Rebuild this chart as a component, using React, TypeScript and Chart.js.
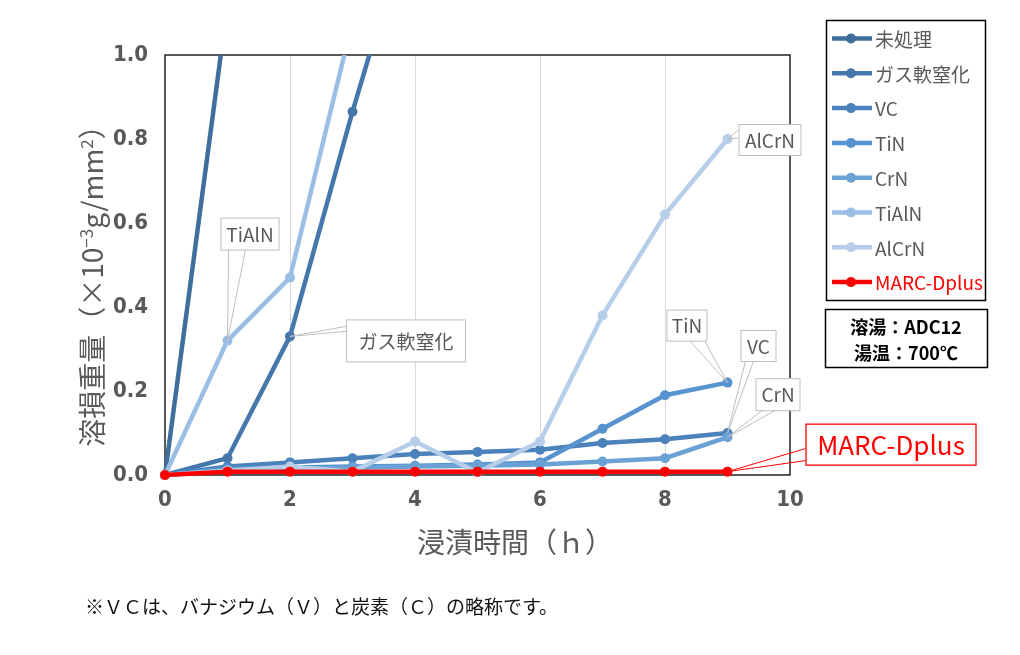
import React, { useEffect, useRef } from 'react';
import { Chart, registerables } from 'chart.js';

Chart.register(...registerables);

// ---- data ----
const hours = [0, 1, 2, 3, 4, 5, 6, 7, 8, 9];
const seriesNames = ['未処理', 'ガス軟窒化', 'VC', 'TiN', 'CrN', 'TiAlN', 'AlCrN', 'MARC-Dplus'];
const untreated = [0, 1.12];
const gasNitriding = [0, 0.04, 0.33, 0.865, 1.365];
const vc = [0, 0.02, 0.03, 0.04, 0.05, 0.055, 0.06, 0.076, 0.085, 0.1];
const tin = [0, 0.015, 0.018, 0.02, 0.022, 0.025, 0.03, 0.11, 0.19, 0.22];
const crn = [0, 0.012, 0.015, 0.017, 0.02, 0.022, 0.025, 0.032, 0.04, 0.09];
const tialn = [0, 0.32, 0.47, 1.08];
const alcrn = [0, 0.01, 0.02, 0.008, 0.08, 0.006, 0.08, 0.38, 0.62, 0.8];
const marcDplus = [0, 0.008, 0.008, 0.008, 0.008, 0.008, 0.008, 0.008, 0.008, 0.008];
const seriesValues = [untreated, gasNitriding, vc, tin, crn, tialn, alcrn, marcDplus];
const seriesColors = ['#3F6E9D', '#4677AB', '#4C82BC', '#5693CF', '#6BA2D6', '#9BBFE4', '#B7CEE9', '#FF0000'];
const yTickValues = [0, 0.2, 0.4, 0.6, 0.8, 1.0];
const xTickValues = [0, 2, 4, 6, 8, 10];
const yTitleParts = ['溶損重量（×10', '−3', 'g/mm', '2', '）'];
const xTitle = '浸漬時間（ｈ）';
const conditionLines = ['溶湯：ADC12', '湯温：700℃'];
const footnote = '※ＶＣは、バナジウム（Ｖ）と炭素（Ｃ）の略称です。';

// callouts: dataset index, point index, box offset from point, box size, wedge base points (relative to box)
const callouts = [
  { ds: 5, idx: 1, dx: -7, dy: -123, w: 58, h: 32, base: [[8, 32], [25, 32]] },
  { ds: 1, idx: 2, dx: 56, dy: -17, w: 119, h: 42, base: [[0, 7], [0, 12]] },
  { ds: 6, idx: 9, dx: 11, dy: -15, w: 62, h: 31, base: [[0, 6], [0, 14]] },
  { ds: 3, idx: 9, dx: -61, dy: -73, w: 40, h: 31, base: [[23, 31], [38, 31]] },
  { ds: 2, idx: 9, dx: 13, dy: -103, w: 35, h: 31, base: [[5, 31], [13, 31]] },
  { ds: 4, idx: 9, dx: 28, dy: -59, w: 44, h: 32, base: [[7, 32], [20, 32]] },
  { ds: 7, idx: 9, dx: 78, dy: -48, w: 170, h: 41, base: [[0, 25], [0, 37]] },
];

const CJK = '"Noto Sans CJK JP", "Noto Sans", sans-serif';
const NUM = '"Liberation Sans Narrow", "DejaVu Sans Condensed", "DejaVu Sans", sans-serif';
const GRAY = '#595959';

const decorPlugin = {
  id: 'decor',
  beforeDatasetsDraw(chart: any) {
    const { ctx, chartArea: a } = chart;
    ctx.save();
    ctx.strokeStyle = '#000';
    ctx.lineWidth = 1.3;
    ctx.strokeRect(a.left, a.top, a.right - a.left, a.bottom - a.top);
    ctx.restore();
  },
  afterDraw(chart: any) {
    const { ctx, chartArea: a } = chart;
    ctx.save();

    // callouts
    callouts.forEach((c) => {
      const el = chart.getDatasetMeta(c.ds).data[c.idx];
      const px = el.x;
      const py = el.y;
      const bx = px + c.dx;
      const by = py + c.dy;
      const isRed = c.ds === 7;
      const edge = isRed ? '#FF0000' : '#BFBFBF';
      ctx.strokeStyle = edge;
      ctx.lineWidth = 1;
      c.base.forEach(([ox, oy]) => {
        ctx.beginPath();
        ctx.moveTo(bx + ox, by + oy);
        ctx.lineTo(px, py);
        ctx.stroke();
      });
      ctx.fillStyle = '#fff';
      ctx.fillRect(bx, by, c.w, c.h);
      ctx.lineWidth = isRed ? 1.3 : 1;
      ctx.strokeRect(bx + 0.5, by + 0.5, c.w, c.h);
      ctx.fillStyle = isRed ? '#FF0000' : GRAY;
      ctx.font = `${isRed ? 26 : 19}px ${CJK}`;
      ctx.textAlign = 'center';
      ctx.textBaseline = 'middle';
      ctx.fillText(seriesNames[c.ds], bx + c.w / 2 + 0.5, by + c.h / 2 + 1);
    });

    // legend
    ctx.strokeStyle = '#000';
    ctx.lineWidth = 1.5;
    ctx.strokeRect(826.5, 20.5, 159, 280);
    seriesNames.forEach((name, i) => {
      const y = 38.5 + i * 34.8;
      const col = seriesColors[i];
      ctx.strokeStyle = col;
      ctx.lineWidth = 4.5;
      ctx.beginPath();
      ctx.moveTo(832, y);
      ctx.lineTo(872, y);
      ctx.stroke();
      ctx.fillStyle = col;
      ctx.beginPath();
      ctx.arc(851, y, 5, 0, Math.PI * 2);
      ctx.fill();
      ctx.fillStyle = i === 7 ? '#FF0000' : GRAY;
      ctx.font = `19px ${CJK}`;
      ctx.textAlign = 'left';
      ctx.textBaseline = 'middle';
      ctx.fillText(name, 875, y + 1);
    });

    // conditions box
    ctx.strokeStyle = '#000';
    ctx.lineWidth = 1.5;
    ctx.strokeRect(825.5, 309.5, 162, 58);
    ctx.fillStyle = '#000';
    ctx.font = `bold 18px ${CJK}`;
    ctx.textAlign = 'center';
    ctx.textBaseline = 'middle';
    conditionLines.forEach((t, i) => ctx.fillText(t, 906, 327 + i * 26));

    // x title
    ctx.fillStyle = GRAY;
    ctx.font = `28px ${CJK}`;
    ctx.textAlign = 'center';
    ctx.textBaseline = 'middle';
    ctx.fillText(xTitle, 515, 542);

    // y title (rotated, with superscripts)
    const segs = yTitleParts.map((t, i) => ({ t, sup: i === 1 || i === 3 }));
    const widths = segs.map((s) => {
      ctx.font = `${s.sup ? 17 : 28}px ${CJK}`;
      return ctx.measureText(s.t).width;
    });
    const total = widths.reduce((p, q) => p + q, 0);
    ctx.translate(93, 279);
    ctx.rotate(-Math.PI / 2);
    ctx.textAlign = 'left';
    ctx.textBaseline = 'alphabetic';
    let x = -total / 2;
    segs.forEach((s, i) => {
      ctx.font = `${s.sup ? 17 : 28}px ${CJK}`;
      ctx.fillText(s.t, x, s.sup ? 0 : 10);
      x += widths[i];
    });
    ctx.setTransform(1, 0, 0, 1, 0, 0);

    // footnote
    ctx.fillStyle = '#111';
    ctx.font = `19px ${CJK}`;
    ctx.textAlign = 'left';
    ctx.textBaseline = 'middle';
    ctx.fillText(footnote, 85, 607);

    ctx.restore();
  },
};

export default function App() {
  const ref = useRef<HTMLCanvasElement>(null);
  useEffect(() => {
    const datasets = seriesNames.map((name, i) => ({
      label: name,
      data: seriesValues[i].map((v, j) => ({ x: hours[j], y: v })),
      borderColor: seriesColors[i],
      backgroundColor: seriesColors[i],
      pointBackgroundColor: seriesColors[i],
      pointBorderWidth: 0,
      pointRadius: 5,
      borderWidth: 4.5,
      tension: 0,
      order: -i,
      clip: { left: 10, top: 0, right: 10, bottom: 10 },
    }));
    const chart = new Chart(ref.current as HTMLCanvasElement, {
      type: 'line',
      data: { datasets } as any,
      options: {
        responsive: false,
        animation: false,
        devicePixelRatio: 1,
        layout: { padding: { top: 55, right: 230, left: 0, bottom: 0 } },
        plugins: { legend: { display: false }, tooltip: { enabled: false } },
        scales: {
          x: {
            type: 'linear',
            min: 0,
            max: 10,
            afterBuildTicks: (s: any) => {
              s.ticks = xTickValues.map((v) => ({ value: v }));
            },
            afterFit: (s: any) => {
              s.height = 180;
            },
            border: { display: false },
            grid: {
              drawTicks: false,
              color: (c: any) => (c.tick && (c.tick.value === 0 || c.tick.value === 10) ? 'rgba(0,0,0,0)' : '#D9D9D9'),
              lineWidth: 1,
            },
            ticks: {
              padding: 12,
              color: GRAY,
              font: { family: NUM, size: 22, weight: 'bold' },
              callback: (v: any) => String(v),
            },
          },
          y: {
            min: 0,
            max: 1,
            afterBuildTicks: (s: any) => {
              s.ticks = yTickValues.map((v) => ({ value: v }));
            },
            afterFit: (s: any) => {
              s.width = 165;
            },
            border: { display: false },
            grid: { display: false, drawTicks: false },
            ticks: {
              padding: 17,
              color: GRAY,
              font: { family: NUM, size: 22, weight: 'bold' },
              callback: (v: any) => Number(v).toFixed(1),
            },
          },
        },
      } as any,
      plugins: [decorPlugin],
    });
    return () => chart.destroy();
  }, []);
  return (
    <div style={{ position: 'absolute', left: 0, top: 0, width: 1020, height: 655, background: '#fff' }}>
      <canvas ref={ref} width={1020} height={655} style={{ display: 'block', width: 1020, height: 655 }} />
    </div>
  );
}
